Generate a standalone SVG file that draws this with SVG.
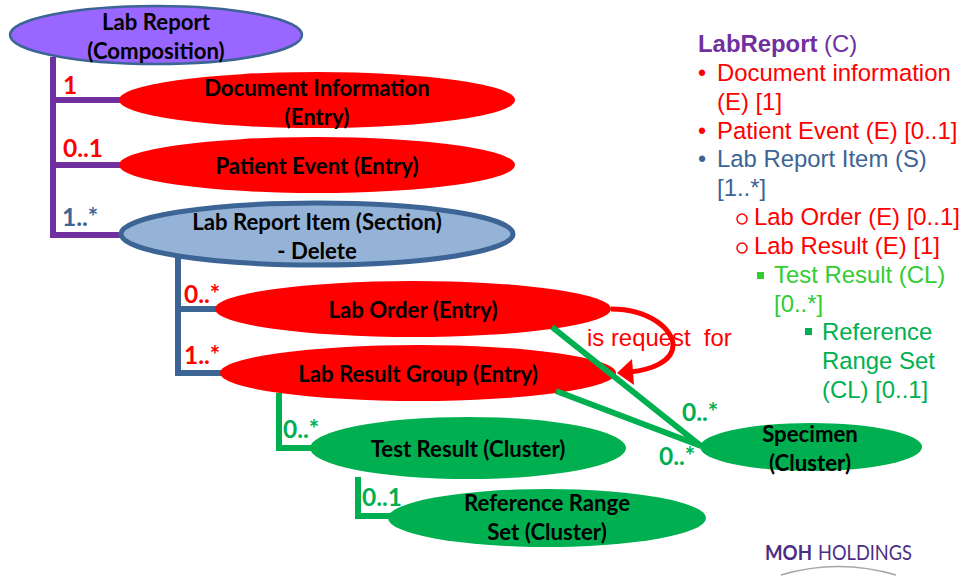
<svg xmlns="http://www.w3.org/2000/svg" width="964" height="576" viewBox="0 0 964 576">
<style>
.n{font:bold 22.2px Lato,Carlito,"Liberation Sans",sans-serif;fill:#000;text-anchor:middle}
.m{font:bold 24.5px Lato,"Liberation Sans",sans-serif}
.t{font:23.9px "Liberation Sans",Arial,sans-serif}
.b{font:23px "Liberation Sans",Arial,sans-serif}
.red{fill:#ff0000}.blue{fill:#3c6494}.lg{fill:#33cc33}.g{fill:#00b050}.pu{fill:#7030a0}
.c{fill:none;stroke-width:6}
.logo{font-family:Lato,"Liberation Sans",sans-serif;font-size:21px;fill:#4b2e83}
</style>
<rect width="964" height="576" fill="#fff"/>
<g id="connectors">
<path class="c" stroke="#7030a0" d="M53 57V235H122M53 100H122M53 165H122"/>
<path class="c" stroke="#3c6494" d="M178 258V373H222M178 309H218"/>
<path class="c" stroke="#00b050" d="M279 393V448H312M358 477V516H392"/>
</g>
<g id="lab-report"><ellipse cx="156" cy="35" rx="146" ry="29" fill="#9966ff" stroke="#3c6494" stroke-width="2.5"/><text class="n" x="156" y="29.500">Lab Report</text><text class="n" x="156" y="58.500">(Composition)</text></g>
<g id="document-information"><ellipse cx="317" cy="100" rx="198" ry="28" fill="#ff0000"/><text class="n" x="317" y="95.500">Document Information</text><text class="n" x="317" y="124.500">(Entry)</text></g>
<g id="patient-event"><ellipse cx="317" cy="165" rx="198" ry="28" fill="#ff0000"/><text class="n" x="317" y="173.500">Patient Event (Entry)</text></g>
<g id="lab-report-item"><ellipse cx="317" cy="234" rx="196" ry="31" fill="#95b3d7" stroke="#3c6494" stroke-width="5"/><text class="n" x="317" y="229.500">Lab Report Item (Section)</text><text class="n" x="317" y="258.500">- Delete</text></g>
<g id="lab-order"><ellipse cx="413" cy="309" rx="198" ry="28" fill="#ff0000"/><text class="n" x="413" y="317.500">Lab Order (Entry)</text></g>
<g id="lab-result-group"><ellipse cx="418" cy="373" rx="198" ry="28" fill="#ff0000"/><text class="n" x="418" y="381.500">Lab Result Group (Entry)</text></g>
<g id="test-result"><ellipse cx="468" cy="448" rx="158" ry="31" fill="#00b050"/><text class="n" x="468" y="456.500">Test Result (Cluster)</text></g>
<g id="reference-range-set"><ellipse cx="547" cy="518" rx="159" ry="29" fill="#00b050"/><text class="n" x="547" y="510.500">Reference Range</text><text class="n" x="547" y="539.500">Set (Cluster)</text></g>
<g id="specimen"><ellipse cx="811" cy="447" rx="111" ry="24" fill="#00b050"/><text class="n" x="810" y="441.500">Specimen</text><text class="n" x="810" y="470.500">(Cluster)</text></g>
<g id="connectors-over">
<path fill="none" stroke="#00b050" stroke-width="6" d="M552 327L701 446M556 391L701 446"/>
<path fill="none" stroke="#ff0000" stroke-width="5" d="M611 309C650 309 673 330 673 345C673 362 650 370 630 372"/>
<path fill="#ff0000" d="M617 373L632 359L634 385Z"/>
</g>
<g id="multiplicities">
<text class="m red" x="63" y="94">1</text>
<text class="m red" x="63" y="157">0..1</text>
<text class="m blue" x="62" y="226">1..*</text>
<text class="m red" x="184" y="303">0..*</text>
<text class="m red" x="184" y="364">1..*</text>
<text class="m g" x="283" y="438">0..*</text>
<text class="m g" x="362" y="506">0..1</text>
<text class="m g" x="682" y="421">0..*</text>
<text class="m g" x="659" y="465">0..*</text>
<text class="t red" x="587" y="346" xml:space="preserve">is request  for</text>
</g>
<g id="legend">
<text x="698" y="52" font-family="'Liberation Sans',Arial,sans-serif" font-size="23.9"><tspan class="pu" font-weight="bold">LabReport</tspan><tspan class="pu"> (C)</tspan></text>
<text class="b red" x="698" y="81">•</text><text class="t red" x="717" y="81">Document information</text>
<text class="t red" x="717" y="110">(E) [1]</text>
<text class="b red" x="698" y="139">•</text><text class="t red" x="717" y="139">Patient Event (E) [0..1]</text>
<text class="b blue" x="698" y="167">•</text><text class="t blue" x="717" y="167">Lab Report Item (S)</text>
<text class="t blue" x="717" y="196">[1..*]</text>
<circle cx="742" cy="219" r="5" fill="none" stroke="#ff0000" stroke-width="1.5"/><text class="t red" x="754" y="225">Lab Order (E) [0..1]</text>
<circle cx="742" cy="248" r="5" fill="none" stroke="#ff0000" stroke-width="1.5"/><text class="t red" x="754" y="254">Lab Result (E) [1]</text>
<rect x="757" y="272" width="7" height="7" class="lg"/><text class="t lg" x="774" y="283">Test Result (CL)</text>
<text class="t lg" x="774" y="312">[0..*]</text>
<rect x="805" y="328" width="7" height="7" class="g"/><text class="t g" x="822" y="340">Reference</text>
<text class="t g" x="822" y="369">Range Set</text>
<text class="t g" x="822" y="398">(CL) [0..1]</text>
</g>
<g id="logo">
<text class="logo" x="765" y="560" font-weight="bold" textLength="47" lengthAdjust="spacingAndGlyphs">MOH</text>
<text class="logo" x="818" y="560" textLength="94" lengthAdjust="spacingAndGlyphs">HOLDINGS</text>
<path d="M781 575Q838 558 896 575" fill="none" stroke="#a6a6a6" stroke-width="1.5"/>
</g>
</svg>
